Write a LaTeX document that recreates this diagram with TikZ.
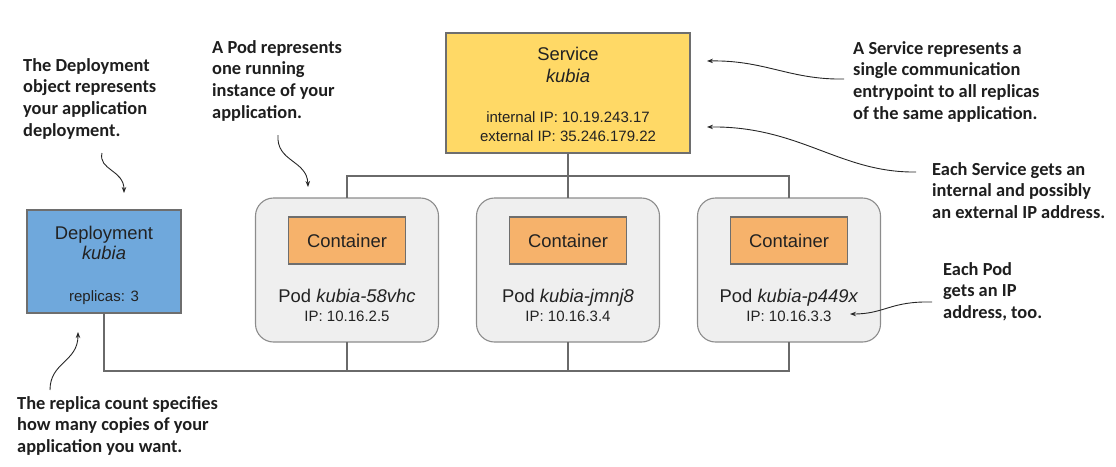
\documentclass[tikz,border=0pt]{standalone}
\usepackage{fontspec}
\setmainfont{Liberation Sans}
\newfontfamily\annfont{Carlito}
\usetikzlibrary{arrows.meta}
\definecolor{depblue}{HTML}{6FA8DC}
\definecolor{svcyellow}{HTML}{FFD966}
\definecolor{ctrorange}{HTML}{F6B26B}
\definecolor{podgray}{HTML}{EFEFEF}
\definecolor{podline}{HTML}{8C8C8C}
\definecolor{boxline}{HTML}{6E6E6E}
\definecolor{wiregray}{HTML}{6A6A6A}
\definecolor{textdark}{HTML}{222222}
\definecolor{anntext}{HTML}{1E1E1E}
\tikzset{
  box/.style={draw=boxline, line width=1.1pt, inner sep=0pt, outer sep=0pt},
  depbox/.style={box, fill=depblue, minimum width=154pt, minimum height=103pt},
  svcbox/.style={box, fill=svcyellow, minimum width=244pt, minimum height=120pt},
  podbox/.style={box, draw=podline, fill=podgray, rounded corners=18pt, minimum width=183pt, minimum height=144pt},
  ctrbox/.style={box, fill=ctrorange, minimum width=117pt, minimum height=47pt, text=textdark, font=\fontsize{18.4}{21}\selectfont},
  bigtxt/.style={font=\fontsize{18.4}{21}\selectfont, text=textdark, inner sep=0pt, anchor=base},
  smalltxt/.style={font=\fontsize{15}{18}\selectfont, text=textdark, inner sep=0pt, anchor=base},
  ann/.style={font=\annfont\bfseries\fontsize{18.4}{21.7}\selectfont, align=left, anchor=base west, inner sep=0pt, text=anntext},
  wire/.style={draw=wiregray, line width=2.2pt},
  callout/.style={draw=black!85, line width=0.9pt, -{Stealth[length=6pt,width=4.5pt]}},
}
\begin{document}
\begin{tikzpicture}[x=1pt,y=-1pt]
\useasboundingbox (0,0) rectangle (1116,466);

% bus levels
\coordinate (busT) at (0,176);
\coordinate (busB) at (0,371);

% main boxes
\node[depbox] (dep) at (104,261.5) {};
\node[svcbox] (svc) at (568,93) {};
\node[podbox] (pod1) at (347,270) {};
\node[podbox] (pod2) at (568,270) {};
\node[podbox] (pod3) at (789,270) {};

% wires
\draw[wire] (svc.south) -- (svc.south |- busT) -| (pod1.north);
\draw[wire] (svc.south) -- (pod2.north);
\draw[wire] (svc.south) -- (svc.south |- busT) -| (pod3.north);
\draw[wire] (dep.south) -- (dep.south |- busB) -| (pod1.south);
\draw[wire] (dep.south) -- (dep.south |- busB) -| (pod2.south);
\draw[wire] (dep.south) -- (dep.south |- busB) -| (pod3.south);

% containers
\node[ctrbox] (ctr1) at (347,240.5) {Container};
\node[ctrbox] (ctr2) at (568,240.5) {Container};
\node[ctrbox] (ctr3) at (789,240.5) {Container};

% deployment texts
\node[bigtxt] (depT) at (104,239) {Deployment};
\node[bigtxt] (depN) at (104,259) {\itshape kubia};
\node[smalltxt] (depR) at (104,301) {replicas: 3};

% service texts
\node[bigtxt] (svcT) at (568,60) {Service};
\node[bigtxt] (svcN) at (568,82) {\itshape kubia};
\node[smalltxt] (svcI) at (568,122) {internal IP: 10.19.243.17};
\node[smalltxt] (svcE) at (568,141) {external IP: 35.246.179.22};

% pod texts
\node[bigtxt] (p1T) at (347,302) {Pod \textit{kubia-58vhc}};
\node[smalltxt] (p1I) at (347,321) {IP: 10.16.2.5};
\node[bigtxt] (p2T) at (568,302) {Pod \textit{kubia-jmnj8}};
\node[smalltxt] (p2I) at (568,321) {IP: 10.16.3.4};
\node[bigtxt] (p3T) at (789,302) {Pod \textit{kubia-p449x}};
\node[smalltxt] (p3I) at (789,321) {IP: 10.16.3.3};

% annotations (anchor = baseline of the last line)
\node[ann] (aDep) at (23,136.1) {The Deployment\\object represents\\your application\\deployment.};
\node[ann] (aPod) at (212,118.1) {A Pod represents\\one running\\instance of your\\application.};
\node[ann] (aSvc) at (853,119.1) {A Service represents a\\single communication\\entrypoint to all replicas\\of the same application.};
\node[ann] (aSvcIP) at (932,218.4) {Each Service gets an\\internal and possibly\\an external IP address.};
\node[ann] (aPodIP) at (943,318.4) {Each Pod\\gets an IP\\address, too.};
\node[ann] (aRep) at (17,452.4) {The replica count specifies\\how many copies of your\\application you want.};

% callout arrows
\coordinate (c1s) at (102,153); \coordinate (c1e) at (124,193);
\coordinate (c2s) at (278,135); \coordinate (c2e) at (308,187);
\coordinate (c3s) at (50,390);  \coordinate (c3e) at (78,332);
\coordinate (c4s) at (844,79);  \coordinate (c4e) at (707,61);
\coordinate (c5s) at (916,172); \coordinate (c5e) at (707,127);
\coordinate (c6s) at (932,302); \coordinate (c6e) at (850,314);
\draw[callout] (c1s) .. controls (98,170) and (124,170) .. (c1e);
\draw[callout] (c2s) .. controls (276,162) and (307,160) .. (c2e);
\draw[callout] (c3s) .. controls (50,362) and (78,362) .. (c3e);
\draw[callout] (c4s) .. controls (790,80) and (765,60) .. (c4e);
\draw[callout] (c5s) .. controls (840,173) and (800,126) .. (c5e);
\draw[callout] (c6s) .. controls (890,301) and (885,314) .. (c6e);
\end{tikzpicture}
\end{document}
